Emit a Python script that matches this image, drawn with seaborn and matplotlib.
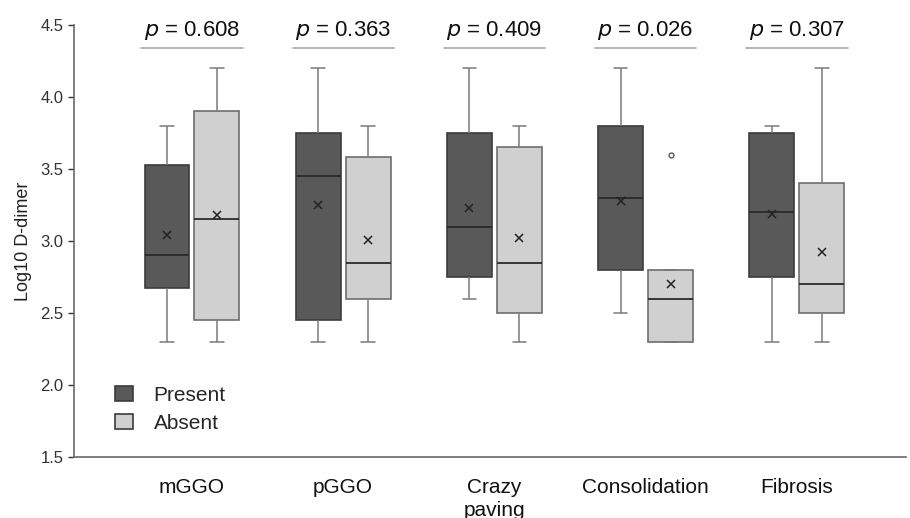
import numpy as np
import pandas as pd
import matplotlib
matplotlib.use("Agg")
import matplotlib.pyplot as plt
import seaborn as sns

categories = ["mGGO", "pGGO", "Crazy\npaving", "Consolidation", "Fibrosis"]
groups = ["Present", "Absent"]
p_values = ["0.608", "0.363", "0.409", "0.026", "0.307"]

# five-number summaries: [low whisker, Q1, median, Q3, high whisker]
present_stats = [
    [2.30, 2.67, 2.90, 3.53, 3.80],
    [2.30, 2.45, 3.45, 3.75, 4.20],
    [2.60, 2.75, 3.10, 3.75, 4.20],
    [2.50, 2.80, 3.30, 3.80, 4.20],
    [2.30, 2.75, 3.20, 3.75, 3.80],
]
absent_stats = [
    [2.30, 2.45, 3.15, 3.90, 4.20],
    [2.30, 2.60, 2.85, 3.58, 3.80],
    [2.30, 2.50, 2.85, 3.65, 3.80],
    [2.30, 2.30, 2.60, 2.80, 3.60],  # 3.60 is an outlier
    [2.30, 2.50, 2.70, 3.40, 4.20],
]
present_means = [3.04, 3.25, 3.23, 3.28, 3.19]
absent_means = [3.18, 3.01, 3.02, 2.70, 2.92]

rows = []
for cat, ps, ab in zip(categories, present_stats, absent_stats):
    for v in ps:
        rows.append((cat, "Present", v))
    for v in ab:
        rows.append((cat, "Absent", v))
df = pd.DataFrame(rows, columns=["feature", "group", "value"])

mrows = []
for cat, pm, am in zip(categories, present_means, absent_means):
    mrows.append((cat, "Present", pm))
    mrows.append((cat, "Absent", am))
dfm = pd.DataFrame(mrows, columns=["feature", "group", "value"])

sns.set_style("white")
plt.rcParams["font.family"] = ["Liberation Sans", "DejaVu Sans"]

fig = plt.figure(figsize=(9.1, 5.18), dpi=100)
ax = fig.add_axes([0.0813, 0.1178, 0.914, 0.834])

palette = {"Present": "#595959", "Absent": "#d0d0d0"}
W, GAP = 0.66, 0.1
box_w = W / 2 * (1 - GAP)

sns.boxplot(data=df, x="feature", y="value", hue="group", order=categories,
            hue_order=groups, palette=palette, width=W, gap=GAP, ax=ax,
            linecolor="#3c3c3c", linewidth=1.2, saturation=1,
            whiskerprops={"color": "#7a7a7a", "linewidth": 1.1},
            capprops={"color": "#7a7a7a", "linewidth": 1.1},
            medianprops={"color": "#2a2a2a", "linewidth": 1.3},
            flierprops={"marker": "o", "markersize": 3.5, "markerfacecolor": "white",
                        "markeredgecolor": "#555555", "markeredgewidth": 1.0},
            legend=True)

# narrow the whisker caps
for ln in ax.lines:
    xd = np.asarray(ln.get_xdata(), dtype=float)
    yd = np.asarray(ln.get_ydata(), dtype=float)
    if len(xd) == 2 and yd[0] == yd[1]:
        ext = abs(xd[1] - xd[0])
        if ext < 0.7 * box_w:
            c = xd.mean()
            ln.set_xdata([c - 0.15 * box_w, c + 0.15 * box_w])

# lighter edges on the "Absent" boxes
for patch in ax.patches:
    fc = patch.get_facecolor()
    if fc[0] > 0.6:
        patch.set_edgecolor("#6e6e6e")

# means drawn as 'x' at the same dodged positions
sns.boxplot(data=dfm, x="feature", y="value", hue="group", order=categories,
            hue_order=groups, palette=palette, width=W, gap=GAP, ax=ax,
            showbox=False, showcaps=False, showfliers=False,
            whiskerprops={"visible": False}, medianprops={"visible": False},
            showmeans=True,
            meanprops={"marker": "x", "markersize": 5.5, "markeredgecolor": "#222222",
                       "markeredgewidth": 1.1},
            legend=False)

ax.set_ylim(1.5, 4.5)
ax.set_xlim(-0.78, 4.72)
ax.set_yticks([1.5, 2.0, 2.5, 3.0, 3.5, 4.0, 4.5])
ax.set_yticklabels([f"{t:.1f}" for t in [1.5, 2.0, 2.5, 3.0, 3.5, 4.0, 4.5]])
ax.set_xlabel("")
ax.set_ylabel("Log10 D-dimer", fontsize=13, color="#222222", labelpad=6)
ax.tick_params(axis="y", labelsize=12, colors="#333333", length=4, width=1, direction="out", left=True)
ax.tick_params(axis="x", labelsize=15, colors="#111111", length=0, pad=15)
for lab in ax.get_xticklabels():
    lab.set_verticalalignment("top")
    lab.set_linespacing(1.3)

for side in ["top", "right"]:
    ax.spines[side].set_visible(False)
for side in ["left", "bottom"]:
    ax.spines[side].set_color("#6a6a6a")
    ax.spines[side].set_linewidth(1.2)

# p-value annotations
for i, p in enumerate(p_values):
    ax.plot([i - 0.335, i + 0.335], [4.34, 4.34], color="#a8a8a8", linewidth=1.2, clip_on=False)
    ax.text(i, 4.38, f"$p$ = {p}", ha="center", va="bottom", fontsize=16, color="#111111")

leg = ax.legend(loc="lower left", bbox_to_anchor=(0.027, 0.012), frameon=False,
                fontsize=15, handlelength=0.85, handleheight=0.75, handletextpad=1.0,
                labelspacing=0.45)
for h in leg.legend_handles:
    h.set_edgecolor("#3c3c3c")

fig.savefig("out.png", dpi=100)
